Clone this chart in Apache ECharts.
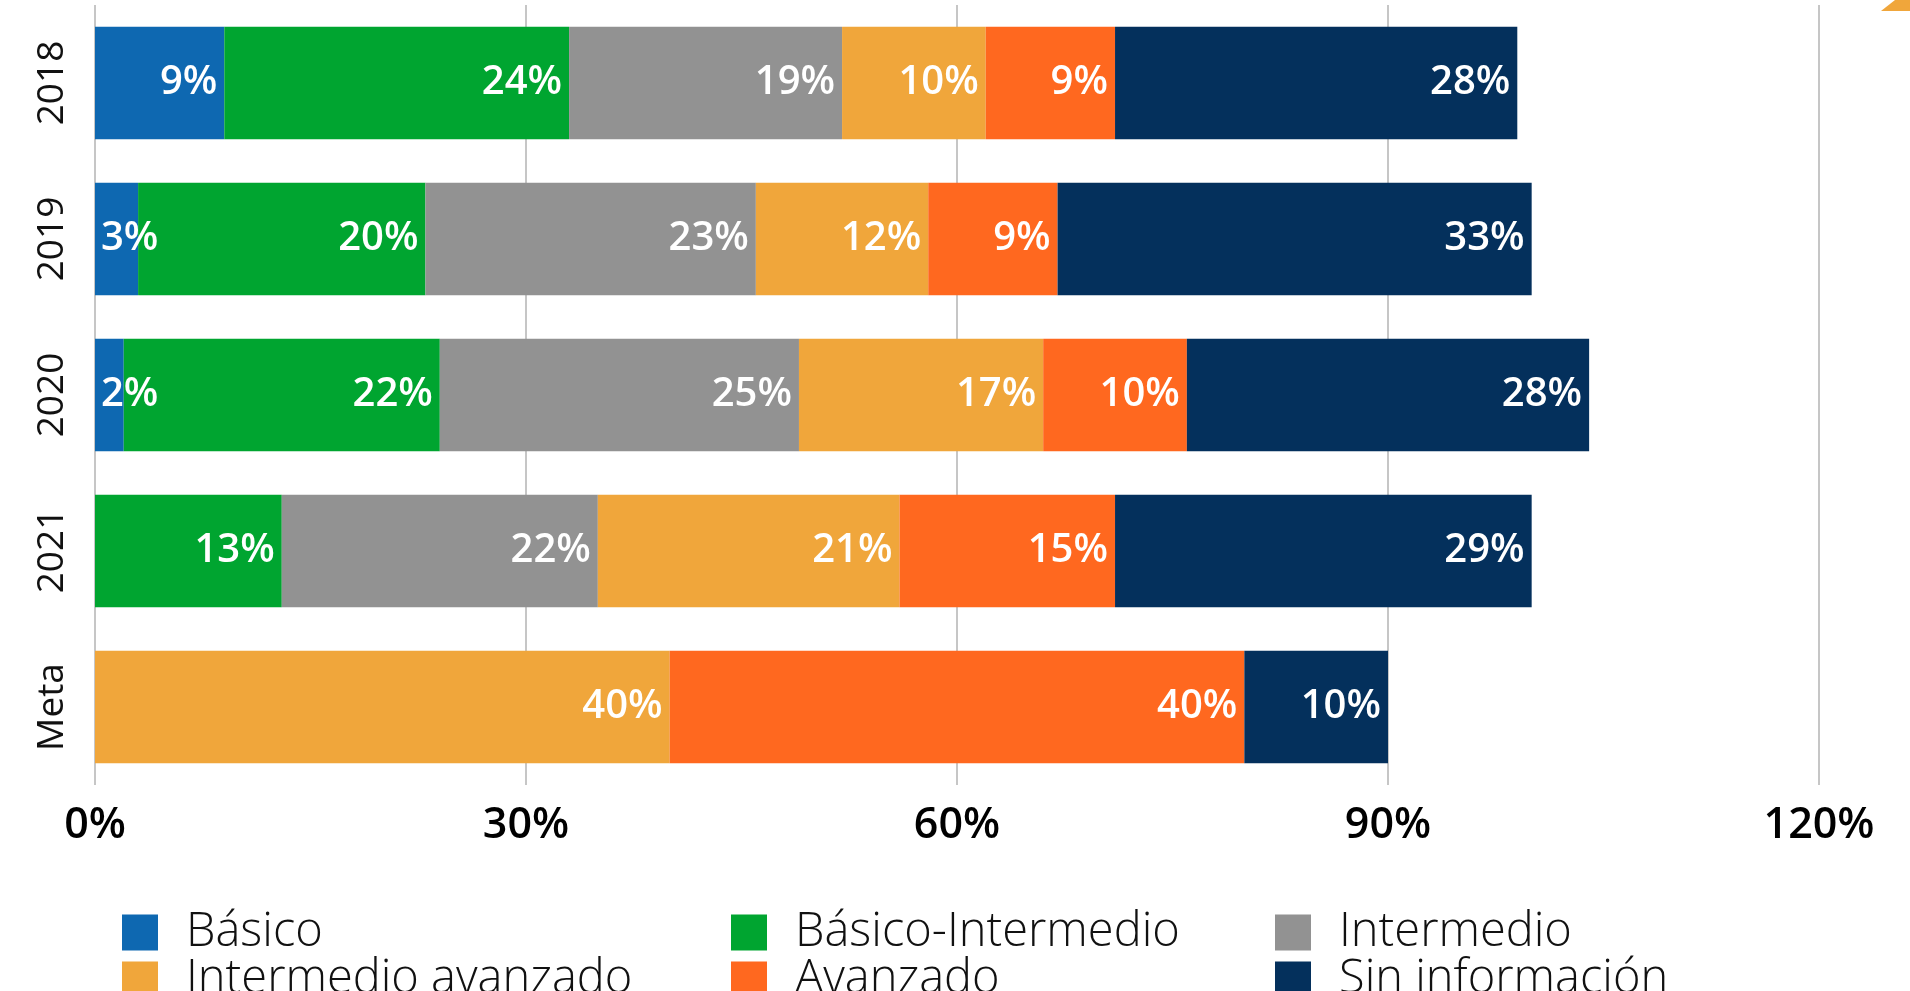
<!DOCTYPE html>
<html>
<head>
<meta charset="utf-8">
<script src="https://cdn.jsdelivr.net/npm/echarts@6/dist/echarts.min.js"></script>
<style>
  html, body { margin: 0; padding: 0; background: #fff; }
  #chart { width: 1910px; height: 991px; }
</style>
</head>
<body>
<div id="chart"></div>
<script>
// categories, top to bottom
var categories = ['2018', '2019', '2020', '2021', 'Meta'];

// series values (%)
var basico             = [9, 3, 2, 0, 0];
var basicoIntermedio   = [24, 20, 22, 13, 0];
var intermedio         = [19, 23, 25, 22, 0];
var intermedioAvanzado = [10, 12, 17, 21, 40];
var avanzado           = [9, 9, 10, 15, 40];
var sinInformacion     = [28, 33, 28, 29, 10];

// x axis ticks
var xTicks = [0, 30, 60, 90, 120];

var names = ['Básico', 'Básico-Intermedio', 'Intermedio', 'Intermedio avanzado', 'Avanzado', 'Sin información'];
var values = [basico, basicoIntermedio, intermedio, intermedioAvanzado, avanzado, sinInformacion];
var colors = ['#0E68B1', '#00A530', '#929292', '#F0A63B', '#FF681F', '#04305C'];

var font = "'Open Sans', 'Noto Sans', sans-serif";

var myChart = echarts.init(document.getElementById('chart'));

// narrow segments get their label pushed to the left, like the original
function toData(arr)
{
    return arr.map(function (v)
    {
        if (v > 0 && v < 5) {
            return {value: v, label: {position: 'insideLeft', distance: 6}};
        }
        return v;
    });
}

var series = names.map(function (name, i)
{
    return {
        name: name,
        type: 'bar',
        stack: 'total',
        barCategoryGap: '28%',
        itemStyle: {color: colors[i]},
        label: {
            show: true,
            position: 'insideRight',
            distance: 7,
            color: '#fff',
            fontFamily: font,
            fontWeight: 600,
            fontSize: 40,
            formatter: function (p)
            {
                return p.value ? p.value + '%' : '';
            }
        },
        data: toData(values[i])
    };
});

function legend(left, data)
{
    return {
        orient: 'vertical',
        left: left,
        top: 909,
        height: 120,
        padding: 0,
        itemWidth: 36,
        itemHeight: 36,
        itemGap: 0,
        itemStyle: {borderWidth: 0},
        icon: 'rect',
        textStyle: {
            fontFamily: font,
            fontWeight: 300,
            fontSize: 47,
            lineHeight: 43,
            padding: [0, 0, 0, 23],
            color: '#111'
        },
        data: data
    };
}

var option = {
    animation: false,
    grid: {
        left: 95,
        right: 91,
        top: 5,
        bottom: 206
    },
    xAxis: {
        type: 'value',
        min: xTicks[0],
        max: xTicks[xTicks.length - 1],
        interval: xTicks[1] - xTicks[0],
        axisLine: {show: false},
        axisTick: {show: false},
        splitLine: {lineStyle: {color: '#c6c6c6', width: 2}},
        axisLabel: {
            margin: 19,
            color: '#000',
            fontFamily: font,
            fontWeight: 600,
            fontSize: 43,
            formatter: '{value}%'
        }
    },
    yAxis: {
        type: 'category',
        inverse: true,
        data: categories,
        axisLine: {show: false},
        axisTick: {show: false},
        axisLabel: {
            rotate: 90,
            margin: 24,
            color: '#111',
            fontFamily: font,
            fontSize: 37
        }
    },
    legend: [
        legend(122, [names[0], names[3]]),
        legend(731, [names[1], names[4]]),
        legend(1275, [names[2], names[5]])
    ],
    graphic: [
        {
            type: 'polygon',
            shape: {points: [[1881, 11], [1895, 0], [1910, 0], [1910, 11]]},
            style: {fill: '#F0A63B'}
        }
    ],
    series: series
};

myChart.setOption(option);
</script>
</body>
</html>
